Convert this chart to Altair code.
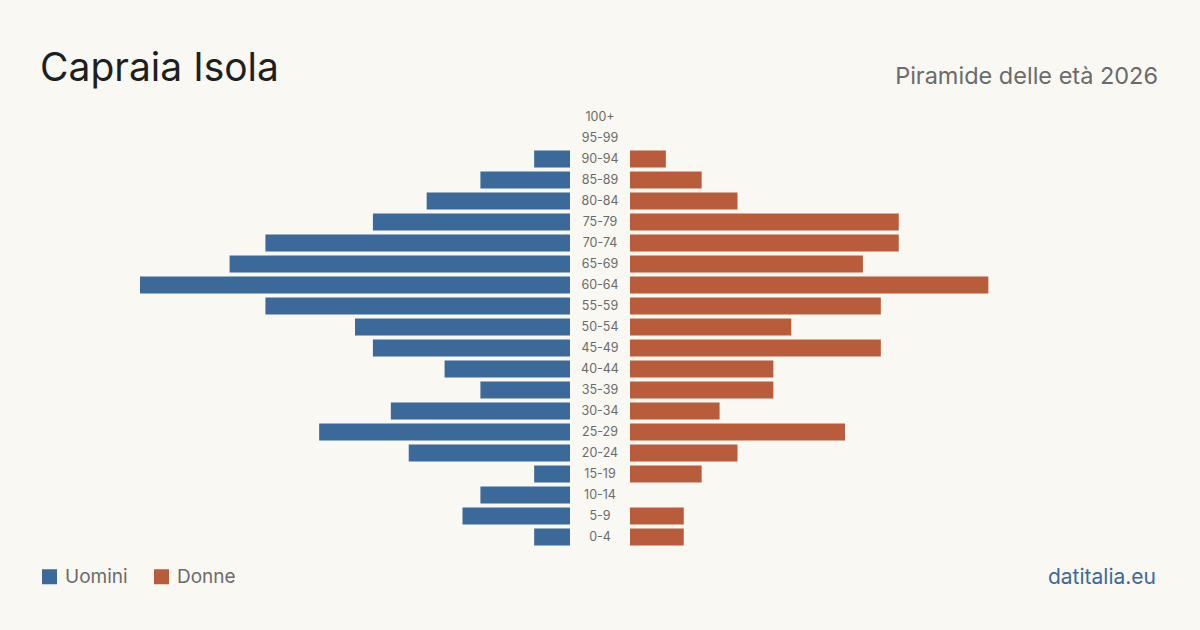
import altair as alt
import pandas as pd

ages = ["100+", "95-99", "90-94", "85-89", "80-84", "75-79", "70-74", "65-69", "60-64",
        "55-59", "50-54", "45-49", "40-44", "35-39", "30-34", "25-29", "20-24",
        "15-19", "10-14", "5-9", "0-4"]
uomini = [0, 0, 2, 5, 8, 11, 17, 19, 24, 17, 12, 11, 7, 5, 10, 14, 9, 2, 5, 6, 2]
donne = [0, 0, 2, 4, 6, 15, 15, 13, 20, 14, 9, 14, 8, 8, 5, 12, 6, 4, 0, 3, 3]

BG = "#f9f8f3"
BLUE = "#3b6a9a"
RED = "#b95c3c"
FONT = "Inter"

W, H = 1200, 630
PX_PER_UNIT = 430 / 24
HALF = (W / 2) / PX_PER_UNIT
GAP = 30 / PX_PER_UNIT

rows = []
for a, u, d in zip(ages, uomini, donne):
    rows.append({"age": a, "sesso": "Uomini", "val": u})
    rows.append({"age": a, "sesso": "Donne", "val": d})
df = pd.DataFrame(rows)
labels = pd.DataFrame({"age": ages})

yscale = alt.Scale(domain=ages, range=[106.5, 547.5], paddingInner=0.19, paddingOuter=0.095)
xscale = alt.Scale(domain=[-HALF, HALF], nice=False, zero=False)

bars = alt.Chart(df).transform_filter(
    alt.datum.val > 0
).transform_calculate(
    x1=f"datum.sesso == 'Uomini' ? -{GAP} : {GAP}",
    x2=f"datum.sesso == 'Uomini' ? -{GAP} - datum.val : {GAP} + datum.val",
).mark_bar(cornerRadius=0).encode(
    x=alt.X("x1:Q", scale=xscale, axis=None),
    x2="x2:Q",
    y=alt.Y("age:N", scale=yscale, axis=None, sort=ages),
    color=alt.Color(
        "sesso:N",
        scale=alt.Scale(domain=["Uomini", "Donne"], range=[BLUE, RED]),
        legend=alt.Legend(
            title=None, orient="none", legendX=40, legendY=567, direction="horizontal",
            symbolType="square", symbolSize=225, symbolStrokeWidth=0, symbolOpacity=1,
            labelFont=FONT, labelFontSize=19, labelColor="#6b6b6b", labelOffset=6,
            columnPadding=24, labelLimit=200,
        ),
    ),
)

agetext = alt.Chart(labels).mark_text(
    font=FONT, fontSize=12.5, color="#6b6b6b", baseline="middle", align="center"
).encode(
    x=alt.value(W / 2),
    y=alt.Y("age:N", scale=yscale, axis=None, sort=ages),
    text="age:N",
)

title = alt.Chart(pd.DataFrame({"t": ["Capraia Isola"]})).mark_text(
    font=FONT, fontSize=39, color="#1f1f1f", align="left", baseline="alphabetic"
).encode(x=alt.value(40), y=alt.value(81), text="t:N")

subtitle = alt.Chart(pd.DataFrame({"t": ["Piramide delle età 2026"]})).mark_text(
    font=FONT, fontSize=23.5, color="#6b6b6b", align="right", baseline="alphabetic"
).encode(x=alt.value(1158), y=alt.value(84), text="t:N")

source = alt.Chart(pd.DataFrame({"t": ["datitalia.eu"]})).mark_text(
    font=FONT, fontSize=21, color=BLUE, align="right", baseline="alphabetic"
).encode(x=alt.value(1156), y=alt.value(584), text="t:N")

chart = alt.layer(bars, agetext, title, subtitle, source).properties(
    width=W, height=H, background=BG, padding=0,
    autosize=alt.AutoSizeParams(type="none"),
).configure_view(stroke=None)

chart.save("out.html", embed_options={"renderer": "svg", "actions": False})
